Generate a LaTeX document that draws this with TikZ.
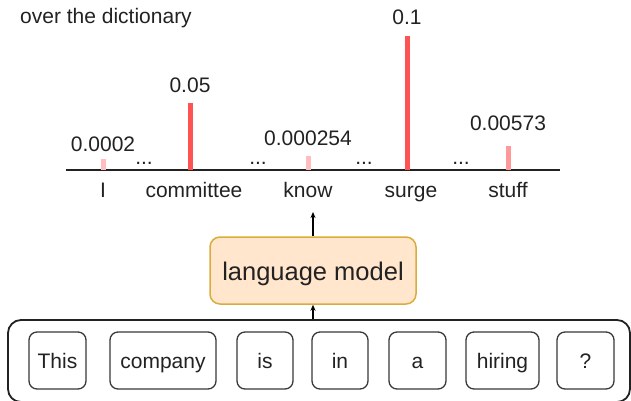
\documentclass[tikz,border=0pt]{standalone}
\usepackage{fontspec}
\setmainfont{Liberation Sans}
\usetikzlibrary{arrows.meta}
\definecolor{barhi}{HTML}{FF5252}
\definecolor{barmid}{HTML}{FF9999}
\definecolor{barlo}{HTML}{FFBDBD}
\definecolor{lmfill}{HTML}{FFE6CC}
\definecolor{lmdraw}{HTML}{D9AD3C}
\definecolor{ink}{HTML}{222222}
\tikzset{
  txt/.style={anchor=base, inner sep=0pt, font=\fontsize{21}{25}\selectfont, text=ink},
  bar/.style={line width=5pt},
  token/.style={draw=ink!90, line width=1.3pt, rounded corners=8pt, minimum height=57pt,
    text height=16pt, text depth=1pt, inner sep=0pt, font=\fontsize{21}{25}\selectfont, text=ink},
  lmbox/.style={draw=lmdraw, fill=lmfill, line width=1.5pt, rounded corners=10pt,
    minimum width=206pt, minimum height=67pt, text height=19pt, text depth=0pt,
    inner sep=0pt, font=\fontsize{25.5}{30}\selectfont, text=ink},
  arr/.style={line width=1.3pt, -{Stealth[length=6pt,width=5pt]}},
}
\begin{document}
\begin{tikzpicture}[x=1pt, y=-1pt]
\useasboundingbox (0,0) rectangle (631,400);
\clip (0,0) rectangle (631,400);

% caption
\node[txt, anchor=base west] (cap) at (20,23) {over the dictionary};

% probability axis
\coordinate (axl) at (66,170);
\coordinate (axr) at (560,170);
\draw[ink, line width=1.3pt] (axl) -- (axr);

% bars
\draw[bar, barlo]  (103,170) -- (103,159);
\draw[bar, barhi]  (190,170) -- (190,103);
\draw[bar, barlo]  (308,170) -- (308,156);
\draw[bar, barhi]  (407,170) -- (407,36);
\draw[bar, barmid] (508,170) -- (508,146);

% probabilities
\node[txt] (p1) at (103,151) {0.0002};
\node[txt] (p2) at (190,92) {0.05};
\node[txt] (p3) at (308,145) {0.000254};
\node[txt] (p4) at (407,24) {0.1};
\node[txt] (p5) at (508,130) {0.00573};

% gaps in the vocabulary
\node[txt] (d1) at (144,164) {...};
\node[txt] (d2) at (258,164) {...};
\node[txt] (d3) at (364,164) {...};
\node[txt] (d4) at (461,164) {...};

% words
\node[txt] (w1) at (103,197) {I};
\node[txt] (w2) at (194,197) {committee};
\node[txt] (w3) at (308,197) {know};
\node[txt] (w4) at (411,197) {surge};
\node[txt] (w5) at (508,197) {stuff};

% model
\node[lmbox] (lm) at (313,270.5) {language model};
\coordinate (out) at (313,212);
\draw[arr] (lm.north) -- (out);

% input sentence
\node[draw=ink, line width=1.8pt, rounded corners=13pt, minimum width=622pt,
  minimum height=82pt, inner sep=0pt] (sent) at (319,361) {};
\draw[arr] (sent.north -| lm.south) -- (lm.south);

\node[token, minimum width=57pt]  (t1) at (57.5,360.5) {This};
\node[token, minimum width=106pt] (t2) at (163,360.5) {company};
\node[token, minimum width=56pt]  (t3) at (265,360.5) {is};
\node[token, minimum width=56pt]  (t4) at (340,360.5) {in};
\node[token, minimum width=57pt]  (t5) at (417.5,360.5) {a};
\node[token, minimum width=73pt]  (t6) at (502.5,360.5) {hiring};
\node[token, minimum width=57pt]  (t7) at (585.5,360.5) {?};
\end{tikzpicture}
\end{document}
